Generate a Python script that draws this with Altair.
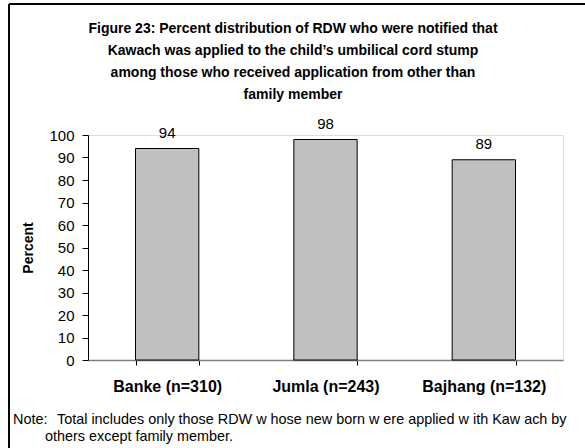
import altair as alt
import pandas as pd

# Survey results by district
districts = ["Banke (n=310)", "Jumla (n=243)", "Bajhang (n=132)"]
percents = [94, 98, 89]
y_ticks = [0, 10, 20, 30, 40, 50, 60, 70, 80, 90, 100]

title_lines = [
    "Figure 23: Percent distribution of RDW who were notified that",
    "Kawach was applied to the child\u2019s umbilical cord stump",
    "among those who received application from other than",
    "family member",
]
note_head = "Note:"
note_line1 = "Total includes only those RDW w hose new born w ere applied w ith Kaw ach by"
note_line2 = "others except family member."

df = pd.DataFrame({"district": districts, "percent": percents})
FONT = "Liberation Sans"

x_enc = alt.X(
    "district:N",
    sort=districts,
    title=None,
    scale=alt.Scale(paddingInner=0.6, paddingOuter=0.3),
    axis=alt.Axis(
        labelFont=FONT, labelFontSize=16, labelFontWeight="bold", labelColor="black",
        labelAngle=0, labelPadding=13, domainColor="#808080", domainWidth=1.5,
        tickColor="black", tickSize=5, tickBand="extent", grid=False,
    ),
)
y_axis = alt.Axis(
    values=y_ticks, labelOverlap=False, labelFont=FONT, labelFontSize=15,
    labelColor="black", labelPadding=8, titleFont=FONT, titleFontSize=14,
    titleFontWeight="bold", titleColor="black", titlePadding=13,
    domainColor="black", tickColor="black", tickSize=6, grid=False,
)
y_scale = alt.Scale(domain=[0, 100], nice=False)

base = alt.Chart(df)

bars = base.mark_bar(
    fill="#c0c0c0", stroke="black", strokeWidth=1
).encode(x=x_enc, y=alt.Y("percent:Q", title="Percent", scale=y_scale, axis=y_axis))

labels = base.mark_text(
    font=FONT, fontSize=15, color="black", baseline="bottom", dy=-8
).encode(
    x=alt.X("district:N", sort=districts),
    y=alt.Y("percent:Q", title="Percent", scale=y_scale, axis=y_axis),
    text="percent:Q",
)

# Outer frame: top and left edges
frame_top = base.mark_rule(color="black", strokeWidth=1.5).encode(
    x=alt.value(-79), x2=alt.value(520), y=alt.value(-131)
)
frame_left = base.mark_rule(color="black", strokeWidth=1.5).encode(
    x=alt.value(-79), y=alt.value(-131), y2=alt.value(330)
)

heading = alt.Chart(pd.DataFrame({"t": [title_lines]})).mark_text(
    font=FONT, fontSize=14, fontWeight="bold", color="black", align="center",
    baseline="top", lineHeight=22,
).encode(x=alt.value(205), y=alt.value(-113), text="t")


def note_text(text, x, y):
    return alt.Chart(pd.DataFrame({"t": [text]})).mark_text(
        font=FONT, fontSize=14.4, color="black", align="left", baseline="middle",
    ).encode(x=alt.value(x), y=alt.value(y), text="t")


notes = [
    note_text(note_head, -75, 285),
    note_text(note_line1, -31, 285),
    note_text(note_line2, -43, 302),
]

chart = (
    alt.layer(frame_top, frame_left, bars, labels, heading, *notes)
    .properties(
        width=475,
        height=225,
        autosize=alt.AutoSizeParams(type="none"),
        padding={"left": 88, "top": 135, "right": 22, "bottom": 88},
    )
    .configure_view(stroke=None)
    .configure(background="white")
)

chart.save("out.html", embed_options={"renderer": "svg", "actions": False})
